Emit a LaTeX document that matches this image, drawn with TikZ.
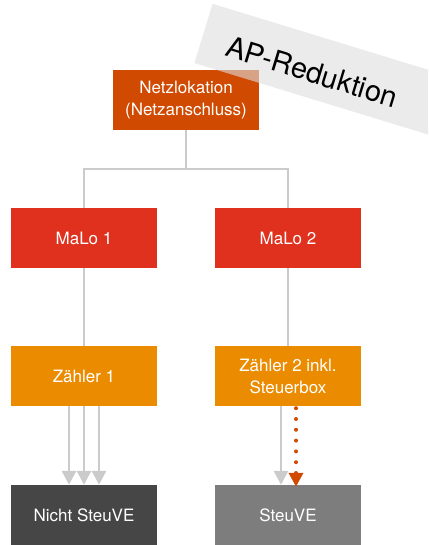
\documentclass[tikz,border=0pt]{standalone}
\usepackage{fontspec}
\setmainfont{TeX Gyre Heros}
\usetikzlibrary{arrows.meta}
\definecolor{netzorange}{HTML}{D04A02}
\definecolor{malorot}{HTML}{E0301E}
\definecolor{zaehlergelb}{HTML}{EB8C00}
\definecolor{dunkelgrau}{HTML}{464646}
\definecolor{mittelgrau}{HTML}{7D7D7D}
\definecolor{liniengrau}{HTML}{CBCBCB}
\definecolor{bandgrau}{HTML}{DEDEDE}
\tikzset{
  kasten/.style={minimum width=146pt,minimum height=60pt,inner sep=0pt,
    text=white,align=center,font=\fontsize{17}{22}\selectfont},
  leitung/.style={color=liniengrau,line width=2.8pt},
  pfeil/.style={leitung,-{Triangle[width=14pt,length=14pt]}},
  steuerpfeil/.style={color=netzorange,line width=4pt,line cap=round,
    dash pattern=on 0pt off 10.8pt,-{Triangle[width=14pt,length=14pt,line cap=butt,sep=-2pt]}}
}

\begin{document}
\begin{tikzpicture}[x=1pt,y=-1pt]
  \useasboundingbox (0,0) rectangle (428,545);
  \clip (0,0) rectangle (428,545);
  % Netz und Marktlokationen
  \node[kasten,fill=netzorange] (netz) at (186,100) {Netzlokation\\(Netzanschluss)};
  \node[kasten,fill=malorot] (malo1) at (84,238) {MaLo 1};
  \node[kasten,fill=malorot] (malo2) at (288,238) {MaLo 2};
  \node[kasten,fill=zaehlergelb] (zaehler1) at (84,376) {Z\"ahler 1};
  \node[kasten,fill=zaehlergelb] (zaehler2) at (288,376) {Z\"ahler 2 inkl.\\Steuerbox};
  \node[kasten,fill=dunkelgrau] (nichtsteuve) at (84,515) {Nicht SteuVE};
  \node[kasten,fill=mittelgrau] (steuve) at (288,515) {SteuVE};
  \coordinate (abzweig) at (186,169);
  \draw[leitung] (netz.south) -- (abzweig);
  \draw[leitung] (malo1.north) |- (abzweig) -| (malo2.north);
  \draw[leitung] (malo1.south) -- (zaehler1.north);
  \draw[leitung] (malo2.south) -- (zaehler2.north);
  \foreach \dx in {-15,0,15}
    \draw[pfeil] ([xshift=\dx pt]zaehler1.south) -- ([xshift=\dx pt]nichtsteuve.north);
  \draw[pfeil] ([xshift=-7pt]zaehler2.south) -- ([xshift=-7pt]steuve.north);
  \draw[steuerpfeil] ([xshift=8pt,yshift=-2pt]zaehler2.south) -- ([xshift=8pt]steuve.north);
  % Band oben rechts
  \node[rotate=-17,fill=bandgrau,fill opacity=0.6,minimum width=250pt,minimum height=62pt] (band) at (323,70) {};
  \node[rotate=-17,font=\fontsize{29}{34}\selectfont] (reduktion) at (312,72) {AP-Reduktion};
\end{tikzpicture}
\end{document}
